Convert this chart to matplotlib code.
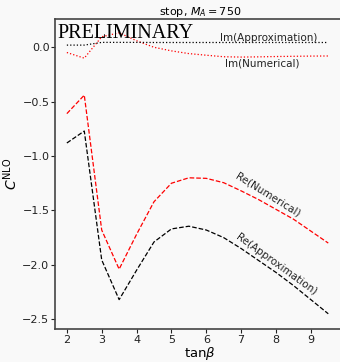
import numpy as np
import matplotlib.pyplot as plt

tanb = [2.0, 2.5, 3.0, 3.5, 4.0, 4.5, 5.0, 5.5, 6.0, 6.5, 7.0, 7.5, 8.0, 8.5, 9.0, 9.5]

re_num = [-0.61, -0.44, -1.68, -2.04, -1.72, -1.42, -1.25, -1.20, -1.205, -1.245,
          -1.32, -1.40, -1.49, -1.58, -1.69, -1.80]
re_approx = [-0.88, -0.77, -1.955, -2.32, -2.05, -1.79, -1.67, -1.645, -1.68, -1.75,
             -1.85, -1.96, -2.07, -2.19, -2.32, -2.45]
im_num = [-0.048, -0.10, 0.097, 0.133, 0.06, 0.0, -0.033, -0.058, -0.073, -0.087,
          -0.09, -0.088, -0.085, -0.083, -0.081, -0.08]
im_approx = [0.02, 0.02, 0.045, 0.045, 0.045, 0.044, 0.044, 0.044, 0.044, 0.044,
             0.044, 0.044, 0.044, 0.044, 0.044, 0.044]

bg = '#f9f9f9'
fig = plt.figure(figsize=(3.4, 3.62), dpi=100, facecolor=bg)
ax = fig.add_axes([55 / 340, 33 / 362, 290 / 340, 310 / 362], facecolor=bg)

ax.plot(tanb, re_num, color='red', ls='--', lw=0.9)
ax.plot(tanb, re_approx, color='black', ls='--', lw=0.9)
ax.plot(tanb, im_num, color='red', ls=':', lw=0.9)
ax.plot(tanb, im_approx, color='black', ls=':', lw=0.9)

ax.text(7.8, 0.085, 'Im(Approximation)', fontsize=7.5, color='#222222', ha='center', va='center')
ax.text(7.6, -0.145, 'Im(Numerical)', fontsize=7.5, color='#222222', ha='center', va='center')
ax.text(7.78, -1.36, 'Re(Numerical)', fontsize=7.5, color='#222222', ha='center', va='center',
        rotation=-32, rotation_mode='anchor')
ax.text(8.0, -1.995, 'Re(Approximation)', fontsize=7.5, color='#222222', ha='center', va='center',
        rotation=-36, rotation_mode='anchor')

ax.text(0.008, 0.985, 'PRELIMINARY', transform=ax.transAxes, fontsize=14.5,
        family='Liberation Serif', ha='left', va='top')

ax.set_xlim(1.66, 9.98)
ax.set_ylim(-2.59, 0.26)
ax.set_xticks(range(2, 10))
ax.set_yticks([0.0, -0.5, -1.0, -1.5, -2.0, -2.5])
ax.set_xlabel(r'tan$\beta$', fontsize=9.5, labelpad=0)
ax.set_ylabel(r'$C^{\rm NLO}$', fontsize=10, labelpad=2)
ax.set_title(r'stop, $M_A = 750$', fontsize=8, pad=3)
ax.tick_params(labelsize=8, length=3, colors='#222222', pad=1)
for s in ax.spines.values():
    s.set_color('#444444')
    s.set_linewidth(1.2)

fig.savefig('out.png', dpi=100, facecolor=bg)
